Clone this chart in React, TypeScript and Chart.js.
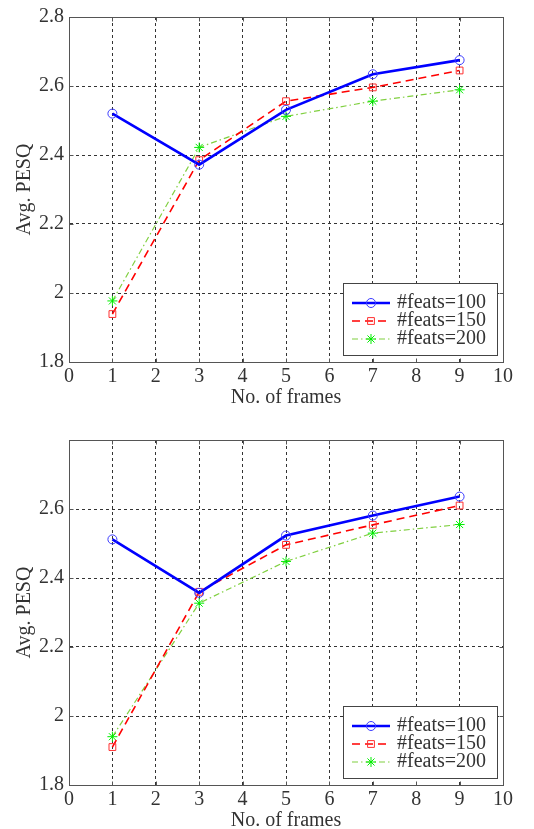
import React, { useEffect, useRef } from 'react';
import { Chart, registerables } from 'chart.js';

Chart.register(...registerables);

// ---- data ----
const frames = [1, 3, 5, 7, 9];
const seriesLabels = ['#feats=100', '#feats=150', '#feats=200'];

const topFeats100 = [2.52, 2.372, 2.531, 2.634, 2.675];
const topFeats150 = [1.939, 2.385, 2.556, 2.596, 2.645];
const topFeats200 = [1.977, 2.422, 2.512, 2.556, 2.589];

const bottomFeats100 = [2.512, 2.357, 2.523, 2.581, 2.636];
const bottomFeats150 = [1.91, 2.36, 2.496, 2.554, 2.61];
const bottomFeats200 = [1.94, 2.327, 2.448, 2.53, 2.555];

const xTickLabels = ['0', '1', '2', '3', '4', '5', '6', '7', '8', '9', '10'];
const yTickLabelsTop = ['1.8', '2', '2.2', '2.4', '2.6', '2.8'];
const yTickLabelsBottom = ['1.8', '2', '2.2', '2.4', '2.6', ''];

const xTitle = 'No. of frames';
const yTitle = 'Avg. PESQ';

// ---- styles ----
const FONT = "'Liberation Serif', 'Times New Roman', serif";
const TEXT = '#333333';
const lineColors = ['#0000ff', '#ff0000', '#80d040'];
const markerColors = ['#3a3aff', '#ff3030', '#00ee00'];
const lineWidths = [2.6, 1.6, 1.2];
const lineDashes: number[][] = [[], [8, 5], [6, 3, 1.5, 3]];
const pointStyles = ['circle', 'rect', 'star'];
const pointRadii = [4.5, 4.8, 5];

function drawMarker(ctx: CanvasRenderingContext2D, style: string, x: number, y: number, r: number) {
  ctx.beginPath();
  if (style === 'circle') {
    ctx.arc(x, y, r, 0, Math.PI * 2);
  } else if (style === 'rect') {
    const s = r * Math.SQRT1_2;
    ctx.rect(x - s, y - s, 2 * s, 2 * s);
  } else {
    ctx.moveTo(x - r, y); ctx.lineTo(x + r, y);
    ctx.moveTo(x, y - r); ctx.lineTo(x, y + r);
    const d = r * Math.SQRT1_2;
    ctx.moveTo(x - d, y - d); ctx.lineTo(x + d, y + d);
    ctx.moveTo(x - d, y + d); ctx.lineTo(x + d, y - d);
  }
  ctx.stroke();
}

const framePlugin = {
  id: 'matlabFrame',
  afterDatasetsDraw(chart: any) {
    const { ctx, chartArea: a } = chart;
    ctx.save();
    ctx.strokeStyle = '#555555';
    ctx.lineWidth = 1;
    ctx.setLineDash([]);
    const L = Math.round(a.left) + 0.5, T = Math.round(a.top) + 0.5;
    const R = Math.round(a.right) + 0.5, B = Math.round(a.bottom) + 0.5;
    ctx.strokeRect(L, T, R - L, B - T);

    // small inward tick marks on all four sides
    const xs = chart.scales.x, ys = chart.scales.y;
    ctx.beginPath();
    xs.ticks.forEach((t: any) => {
      const px = Math.round(xs.getPixelForValue(t.value)) + 0.5;
      ctx.moveTo(px, B); ctx.lineTo(px, B - 4);
      ctx.moveTo(px, T); ctx.lineTo(px, T + 4);
    });
    ys.ticks.forEach((t: any) => {
      const py = Math.round(ys.getPixelForValue(t.value)) + 0.5;
      ctx.moveTo(L, py); ctx.lineTo(L + 4, py);
      ctx.moveTo(R, py); ctx.lineTo(R - 4, py);
    });
    ctx.stroke();

    // legend box inside bottom-right of plot area
    const bw = 154, bh = 72;
    const bx = Math.round(a.right - 6 - bw);
    const by = Math.round(a.bottom - 7 - bh);
    ctx.fillStyle = '#ffffff';
    ctx.fillRect(bx, by, bw, bh);
    ctx.strokeStyle = '#444444';
    ctx.strokeRect(bx + 0.5, by + 0.5, bw, bh);
    const rows = [20, 38, 56];
    chart.data.datasets.forEach((ds: any, i: number) => {
      const y = by + rows[i];
      ctx.strokeStyle = lineColors[i];
      ctx.lineWidth = lineWidths[i];
      ctx.setLineDash(lineDashes[i]);
      ctx.beginPath();
      ctx.moveTo(bx + 9, y);
      ctx.lineTo(bx + 47, y);
      ctx.stroke();
      ctx.setLineDash([]);
      ctx.strokeStyle = markerColors[i];
      ctx.lineWidth = 1;
      drawMarker(ctx, pointStyles[i], bx + 28, y, pointRadii[i]);
      ctx.fillStyle = TEXT;
      ctx.font = `20px ${FONT}`;
      ctx.textBaseline = 'middle';
      ctx.textAlign = 'left';
      ctx.fillText(ds.label, bx + 54, y);
    });
    ctx.restore();
  },
};

function makeConfig(v100: number[], v150: number[], v200: number[], yLabels: string[]): any {
  const datasets = [v100, v150, v200].map((vals, i) => ({
    label: seriesLabels[i],
    data: frames.map((f, j) => ({ x: f, y: vals[j] })),
    borderColor: lineColors[i],
    borderWidth: lineWidths[i],
    borderDash: lineDashes[i],
    pointStyle: pointStyles[i],
    pointRadius: pointRadii[i],
    pointBorderColor: markerColors[i],
    pointBackgroundColor: 'rgba(0,0,0,0)',
    pointBorderWidth: 1,
    tension: 0,
    fill: false,
  }));
  return {
    type: 'line',
    data: { datasets },
    options: {
      animation: false,
      responsive: false,
      devicePixelRatio: 1,
      layout: { padding: { top: 12, right: 31, left: 0, bottom: 0 } },
      plugins: { legend: { display: false }, tooltip: { enabled: false } },
      scales: {
        x: {
          type: 'linear',
          min: 0,
          max: 10,
          afterFit: (s: any) => { s.height = 52; },
          ticks: {
            stepSize: 1,
            padding: 3,
            color: TEXT,
            font: { family: FONT, size: 20 },
            callback: (_v: any, i: number) => xTickLabels[i],
          },
          grid: { color: '#333333', lineWidth: 1, drawTicks: false },
          border: { display: true, color: '#555555', dash: [3, 3] },
          title: {
            display: true,
            text: xTitle,
            color: TEXT,
            font: { family: FONT, size: 20 },
            padding: { top: 0, bottom: 4 },
          },
        },
        y: {
          type: 'linear',
          min: 1.8,
          max: 2.8,
          afterFit: (s: any) => { s.width = 69; },
          ticks: {
            stepSize: 0.2,
            padding: 5,
            color: TEXT,
            font: { family: FONT, size: 20 },
            callback: (_v: any, i: number) => yLabels[i],
          },
          grid: { color: '#333333', lineWidth: 1, drawTicks: false },
          border: { display: true, color: '#555555', dash: [3, 3] },
          title: {
            display: true,
            text: yTitle,
            color: TEXT,
            font: { family: FONT, size: 20 },
            padding: { top: 13, bottom: 0 },
          },
        },
      },
    },
    plugins: [framePlugin],
  };
}

function PlotCanvas(props: { v100: number[]; v150: number[]; v200: number[]; yLabels: string[]; top: number }) {
  const ref = useRef<HTMLCanvasElement | null>(null);
  useEffect(() => {
    if (!ref.current) return;
    const chart = new Chart(ref.current, makeConfig(props.v100, props.v150, props.v200, props.yLabels));
    return () => chart.destroy();
  }, []);
  return (
    <canvas
      ref={ref}
      width={534}
      height={414}
      style={{ position: 'absolute', left: 0, top: props.top, width: 534, height: 414 }}
    />
  );
}

export default function App() {
  return (
    <div style={{ position: 'absolute', left: 0, top: 0, width: 534, height: 829, overflow: 'hidden', background: '#fff' }}>
      <PlotCanvas v100={topFeats100} v150={topFeats150} v200={topFeats200} yLabels={yTickLabelsTop} top={0} />
      <PlotCanvas v100={bottomFeats100} v150={bottomFeats150} v200={bottomFeats200} yLabels={yTickLabelsBottom} top={423} />
    </div>
  );
}
